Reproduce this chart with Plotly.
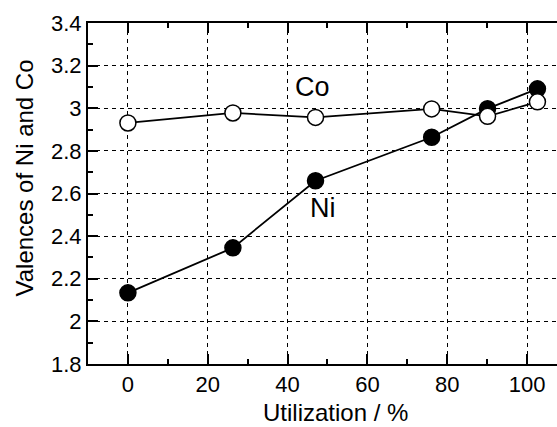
import plotly.graph_objects as go

utilization = [0, 26.3, 47, 76.1, 90.1, 102.6]
ni_valence = [2.134, 2.345, 2.66, 2.864, 2.998, 3.091]
co_valence = [2.931, 2.978, 2.957, 2.997, 2.962, 3.030]

x_ticks = [0, 20, 40, 60, 80, 100]
x_ticktext = ["0", "20", "40", "60", "80", "100"]
y_ticks = [1.8, 2.0, 2.2, 2.4, 2.6, 2.8, 3.0, 3.2, 3.4]
y_ticktext = ["1.8", "2", "2.2", "2.4", "2.6", "2.8", "3", "3.2", "3.4"]

labels = ["Co", "Ni"]
label_x = [46.3, 48.9]
label_y = [3.098, 2.534]

x_title = "Utilization / %"
y_title = "Valences of Ni and Co"

FONT = "Liberation Sans, Arial, sans-serif"
W, H = 557, 427
ML, MR, MT, MB = 88, 0, 23, 63

fig = go.Figure()
fig.add_trace(go.Scatter(
    x=utilization, y=ni_valence, mode="lines+markers", name="Ni",
    line=dict(color="black", width=1.8),
    marker=dict(size=16, color="black", line=dict(color="black", width=1.5)),
))
fig.add_trace(go.Scatter(
    x=utilization, y=co_valence, mode="lines+markers", name="Co",
    line=dict(color="black", width=1.8),
    marker=dict(size=16, color="white", line=dict(color="black", width=1.5)),
))

for t, ax, ay in zip(labels, label_x, label_y):
    fig.add_annotation(x=ax, y=ay, text=t, showarrow=False,
                       font=dict(size=27, color="black", family=FONT),
                       xanchor="center", yanchor="middle")

pw = W - ML - MR
ph = H - MT - MB
# axis titles placed as paper annotations
fig.add_annotation(xref="paper", yref="paper",
                   x=(335 - ML) / pw, y=(H - MB - 412) / ph,
                   text=x_title, showarrow=False,
                   font=dict(size=24, color="black", family=FONT),
                   xanchor="center", yanchor="middle")
fig.add_annotation(xref="paper", yref="paper",
                   x=(24 - ML) / pw, y=(H - MB - 178.5) / ph,
                   text=y_title, showarrow=False, textangle=-90,
                   font=dict(size=24, color="black", family=FONT),
                   xanchor="center", yanchor="middle")

fig.update_layout(
    width=W, height=H,
    margin=dict(l=ML, r=MR, t=MT, b=MB),
    paper_bgcolor="white", plot_bgcolor="white",
    showlegend=False,
    font=dict(family=FONT, color="black", size=22),
)
fig.update_xaxes(
    range=[-10, 107.5], tickmode="array", tickvals=x_ticks, ticktext=x_ticktext,
    ticks="inside", ticklen=10, tickwidth=1.5, tickcolor="black",
    showline=True, linecolor="black", linewidth=2, mirror="allticks",
    showgrid=True, gridcolor="black", gridwidth=1, griddash="4px,4px",
    zeroline=False,
    minor=dict(dtick=10, tick0=0, ticks="inside", ticklen=5, tickwidth=1.5, tickcolor="black", showgrid=False),
    tickfont=dict(size=22),
)
fig.update_yaxes(
    range=[1.8, 3.4], tickmode="array", tickvals=y_ticks, ticktext=y_ticktext,
    ticks="inside", ticklen=10, tickwidth=1.5, tickcolor="black",
    showline=True, linecolor="black", linewidth=2, mirror=False,
    showgrid=True, gridcolor="black", gridwidth=1, griddash="4px,4px",
    zeroline=False,
    minor=dict(dtick=0.1, tick0=1.8, ticks="inside", ticklen=5, tickwidth=1.5, tickcolor="black", showgrid=False),
    tickfont=dict(size=22),
)

fig.write_html("out.html")
